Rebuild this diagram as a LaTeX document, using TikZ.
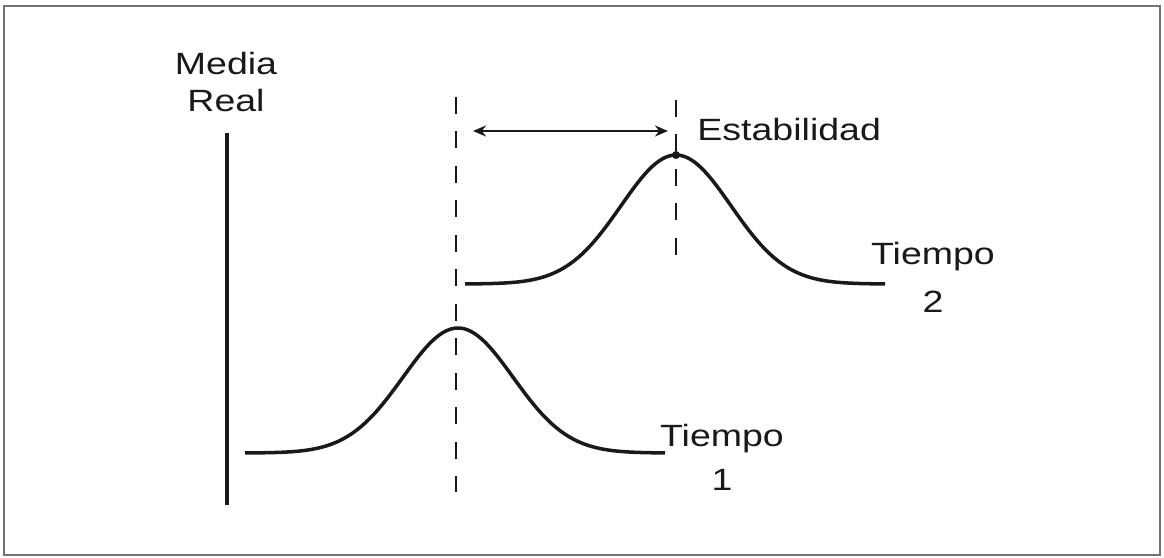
\documentclass[tikz,border=0pt]{standalone}
\usepackage{fontspec}
\setmainfont{Liberation Sans}
\usepackage{tikz}
\usetikzlibrary{arrows.meta,positioning}

\begin{document}
\begin{tikzpicture}[
  x=0.02cm, y=-0.02cm,
  lbl/.style={inner sep=0pt, font=\fontsize{17.5}{21}\selectfont, xscale=1.22, text=black!90},
  curve/.style={line width=2pt, black!90},
  axis/.style={line width=2pt, black!90},
  guide/.style={line width=1.5pt, black!90, dash pattern=on 0.34cm off 0.35cm},
  span/.style={{Stealth[length=2.6mm, width=2.2mm]}-{Stealth[length=2.6mm, width=2.2mm]}, line width=1.5pt, black!90},
  dot/.style={circle, fill=black!90, inner sep=0pt, minimum size=1.6mm}
]
\useasboundingbox (0,0) rectangle (1164,558);
% frame
\draw[line width=1.2pt, black!55] (4,6) rectangle (1160,555);

% vertical axis
\coordinate (atop) at (227,133);
\coordinate (abot) at (227,505);
\draw[axis] (atop) -- (abot);
\node[lbl, align=center, anchor=base] (media) at (226,111) {Media\\Real};

% time 1 curve
\draw[curve] plot[domain=245:665, samples=120] (\x, {453-125*exp(0-0.5*pow((\x-458)/55,2))});
\node[lbl, align=center, anchor=base] (t1) at (722,490) {Tiempo\\[4pt]1};

% time 2 curve
\draw[curve] plot[domain=465:885, samples=120] (\x, {284-129*exp(0-0.5*pow((\x-676)/55,2))});
\node[lbl, align=center, anchor=base] (t2) at (933,312) {Tiempo\\[6pt]2};

% dashed guides
\coordinate (g1top) at (456,97);
\coordinate (g1bot) at (456,492);
\draw[guide] (g1top) -- (g1bot);
\coordinate (g2top) at (676,100);
\coordinate (g2bot) at (676,272);
\draw[guide] (g2top) -- (g2bot);
\node[dot] (peak) at (676,155) {};

% stability span
\coordinate (sl) at (473,131);
\coordinate (sr) at (668,131);
\draw[span] (sl) -- (sr);
\node[lbl, anchor=base west] (stab) at (697,140) {Estabilidad};
\end{tikzpicture}
\end{document}
